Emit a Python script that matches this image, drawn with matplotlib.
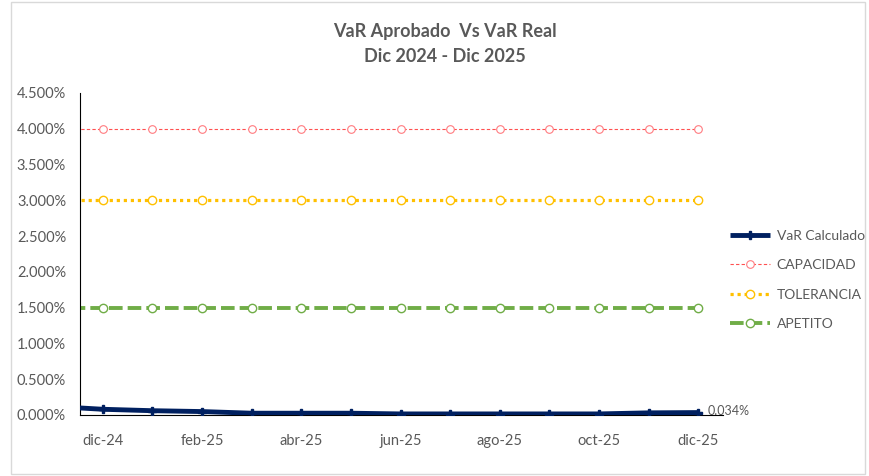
import numpy as np
import matplotlib.pyplot as plt
from matplotlib.ticker import FuncFormatter, MultipleLocator
from matplotlib.patches import Rectangle

plt.rcParams['font.family'] = ['Lato', 'DejaVu Sans']

# meses: nov-24 (fuera del eje, recortado) ... dic-25
meses = ['nov-24', 'dic-24', 'ene-25', 'feb-25', 'mar-25', 'abr-25', 'may-25',
         'jun-25', 'jul-25', 'ago-25', 'sep-25', 'oct-25', 'nov-25', 'dic-25']
var_calculado = [0.120, 0.080, 0.060, 0.048, 0.025, 0.025, 0.025,
                 0.015, 0.015, 0.015, 0.015, 0.015, 0.030, 0.034]
capacidad = [4.0] * 14
tolerancia = [3.0] * 14
apetito = [1.5] * 14

x = np.arange(len(meses)) - 1  # dic-24 = 0
gris = '#595959'

fig = plt.figure(figsize=(8.69, 4.76), dpi=100)
fig.patches.append(Rectangle((11 / 869, 0.005), 854 / 869, 0.99, transform=fig.transFigure,
                             fill=False, edgecolor='#D9D9D9', linewidth=1))
ax = fig.add_axes([80 / 869, 1 - 415 / 476, (723 - 80) / 869, (415 - 93) / 476])

var = np.array(var_calculado) / 100
ax.plot(x, var, color='#002060', linewidth=3.5, marker='P', markersize=5.5,
        label='VaR Calculado', zorder=5, solid_capstyle='butt')
ax.plot(x, np.array(capacidad) / 100, color='#FF5050', linewidth=0.8, linestyle=(0, (3, 2)),
        marker='o', markersize=5.5, markerfacecolor='white', markeredgecolor='#FF7C80',
        markeredgewidth=0.8, label='CAPACIDAD')
ax.plot(x, np.array(tolerancia) / 100, color='#FFC000', linewidth=2.3, linestyle=(0, (1, 1.2)),
        marker='o', markersize=6, markerfacecolor='white', markeredgecolor='#FFC000',
        markeredgewidth=1.0, label='TOLERANCIA')
ax.plot(x, np.array(apetito) / 100, color='#70AD47', linewidth=2.8, linestyle=(0, (3.5, 1.3)),
        marker='o', markersize=6, markerfacecolor='white', markeredgecolor='#70AD47',
        markeredgewidth=1.0, label='APETITO')

ax.annotate(f'{var_calculado[-1]:.3f}%', xy=(x[-1], var[-1]), xytext=(x[-1] + 0.2, var[-1] + 0.0002),
            fontsize=9, color=gris, va='center', ha='left',
            arrowprops=dict(arrowstyle='-', color='#A6A6A6', linewidth=0.8))

ax.set_xlim(-0.46, 12.5)
ax.set_ylim(0, 0.045)
ax.yaxis.set_major_locator(MultipleLocator(0.005))
ax.yaxis.set_major_formatter(FuncFormatter(lambda v, p: f'{v * 100:.3f}%'))
ax.set_xticks(x[1::2])
ax.set_xticklabels(meses[1::2])
ax.tick_params(axis='both', length=0, labelsize=10.5, labelcolor=gris)
ax.tick_params(axis='x', pad=14)
ax.tick_params(axis='y', pad=10)
for s in ['top', 'right']:
    ax.spines[s].set_visible(False)
ax.spines['left'].set_color('black')
ax.spines['bottom'].set_color('black')

fig.text(445 / 869, 1 - 31 / 476, 'VaR Aprobado  Vs VaR Real', ha='center', va='center',
         fontsize=13, fontweight='bold', color=gris)
fig.text(445 / 869, 1 - 57 / 476, 'Dic 2024 - Dic 2025', ha='center', va='center',
         fontsize=13, fontweight='bold', color=gris)

fig.legend(loc='center left', bbox_to_anchor=(717 / 869, 1 - 280 / 476), frameon=False,
           fontsize=10, labelcolor=gris, handlelength=2.9, handletextpad=0.5,
           labelspacing=1.25)

fig.savefig('out.png', dpi=100)
